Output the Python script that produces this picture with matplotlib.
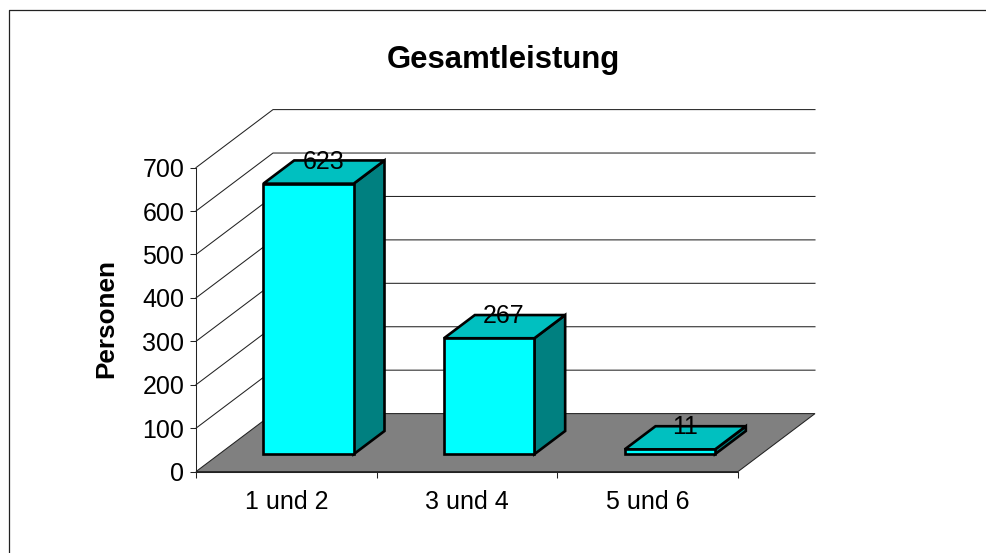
import matplotlib
matplotlib.use("Agg")
import matplotlib.pyplot as plt
from matplotlib.patches import Polygon
from matplotlib.lines import Line2D

categories = ["1 und 2", "3 und 4", "5 und 6"]
values = [623, 267, 11]
y_ticks = [0, 100, 200, 300, 400, 500, 600, 700]
title = "Gesamtleistung"
y_label = "Personen"

plt.rcParams['font.family'] = ['Liberation Sans', 'DejaVu Sans']
W, H = 986, 553
fig = plt.figure(figsize=(W/100, H/100), dpi=100, facecolor='white')
ax = fig.add_axes([196/W, (H-471.6)/H, 542/W, 304/H])
ax.set_xlim(0, 3)
ax.set_ylim(0, 700)
ax.patch.set_visible(False)

# oblique depth of the 3D box, in data units
DX = 77 * 3 / 542
DY = 58 * 700 / 304


def P(x, d, v):
    return (x + d * DX, v + d * DY)


for s in ('top', 'right'):
    ax.spines[s].set_visible(False)
for s in ('left', 'bottom'):
    ax.spines[s].set_linewidth(0.75)
    ax.spines[s].set_color('#222222')
    ax.spines[s].set_zorder(3)

# floor
ax.add_patch(Polygon([P(0, 0, 0), P(3, 0, 0), P(3, 1, 0), P(0, 1, 0)], closed=True,
                     facecolor='#808080', edgecolor='#222222', lw=0.75, clip_on=False, zorder=2))
# wall grid
for t in y_ticks[1:]:
    xs, ys = zip(P(0, 0, t), P(0, 1, t), P(3, 1, t))
    ax.plot(xs, ys, color='#222222', lw=0.75, clip_on=False, zorder=1)

# bars
BW, D0, D1 = 0.5, 0.3, 0.7
for i, v in enumerate(values):
    x0, x1 = i + 0.495 - BW / 2, i + 0.495 + BW / 2
    kw = dict(closed=True, edgecolor='black', lw=1.9, joinstyle='miter', clip_on=False, zorder=4)
    ax.add_patch(Polygon([P(x1, D0, 0), P(x1, D1, 0), P(x1, D1, v), P(x1, D0, v)], facecolor='#008080', **kw))
    ax.add_patch(Polygon([P(x0, D0, v), P(x1, D0, v), P(x1, D1, v), P(x0, D1, v)], facecolor='#00C0C0', **kw))
    ax.add_patch(Polygon([P(x0, D0, 0), P(x1, D0, 0), P(x1, D0, v), P(x0, D0, v)], facecolor='#00FFFF', **kw))
    tx, ty = P(i + 0.495, (D0 + D1) / 2, v)
    ax.annotate(str(v), (tx, ty), xytext=(-0.5, 7.5), textcoords='offset points', ha='center', va='center',
                fontsize=18, color='black', zorder=5, annotation_clip=False)

ax.set_yticks(y_ticks)
ax.set_xticks([0, 1, 2, 3])
ax.set_xticklabels([])
ax.set_xticks([0.5, 1.5, 2.5], minor=True)
ax.set_xticklabels(categories, minor=True)
ax.tick_params(axis='y', length=4.5, width=0.75, pad=4, labelsize=18, color='#222222')
ax.tick_params(axis='x', which='major', length=4.5, width=0.75, color='#222222')
ax.tick_params(axis='x', which='minor', length=0, pad=13.2, labelsize=18)

fig.text(503.5/W, 1 - 60/H, title, ha='center', va='center', fontsize=22.4, fontweight='bold')
fig.text(106.5/W, 1 - 318.5/H, y_label, ha='center', va='center', rotation=90, fontsize=18.8, fontweight='bold')

# outer chart frame
fig.add_artist(Line2D([8.5/W, 8.5/W, 1], [0, 1 - 9.5/H, 1 - 9.5/H], transform=fig.transFigure,
                      color='#222222', lw=0.9))

fig.savefig("out.png", dpi=100)
